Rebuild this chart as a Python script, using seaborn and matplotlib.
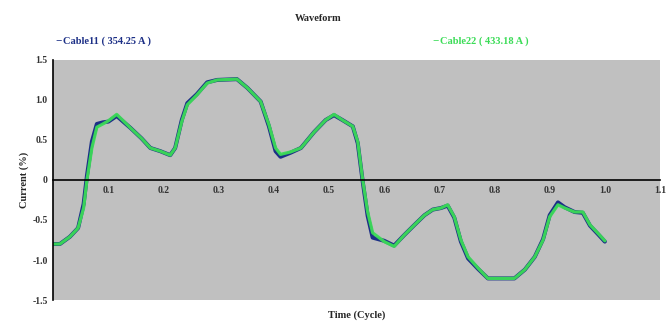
import numpy as np
import pandas as pd
import matplotlib
matplotlib.use("Agg")
import matplotlib.pyplot as plt
from matplotlib.ticker import MultipleLocator, FormatStrFormatter
import seaborn as sns

sns.set_style("white")
plt.rcParams['font.family'] = ['Liberation Serif', 'DejaVu Serif']

title = "Waveform"
series_names = ["Cable11 ( 354.25 A )", "Cable22 ( 433.18 A )"]

time_cycle = [0.0, 0.012, 0.03, 0.045, 0.055, 0.061, 0.07, 0.079, 0.09, 0.1,
              0.115, 0.14, 0.16, 0.176, 0.194, 0.212, 0.221, 0.233, 0.243, 0.26,
              0.279, 0.297, 0.333, 0.352, 0.376, 0.391, 0.403, 0.412, 0.43, 0.449,
              0.473, 0.494, 0.509, 0.524, 0.543, 0.552, 0.561, 0.57, 0.579, 0.6,
              0.618, 0.636, 0.655, 0.673, 0.688, 0.703, 0.715, 0.727, 0.739, 0.752,
              0.77, 0.788, 0.836, 0.855, 0.873, 0.888, 0.9, 0.915, 0.927, 0.945,
              0.96, 0.973, 0.988, 1.0]

cable22 = [-0.80, -0.80, -0.71, -0.60, -0.35, 0.0, 0.40, 0.66, 0.70, 0.74,
           0.82, 0.65, 0.52, 0.40, 0.36, 0.31, 0.40, 0.73, 0.94, 1.06,
           1.21, 1.25, 1.26, 1.15, 0.98, 0.69, 0.40, 0.32, 0.35, 0.40,
           0.60, 0.75, 0.82, 0.75, 0.67, 0.48, 0.0, -0.40, -0.66, -0.77,
           -0.83, -0.69, -0.56, -0.44, -0.37, -0.35, -0.31, -0.46, -0.75, -0.96,
           -1.10, -1.23, -1.23, -1.12, -0.96, -0.75, -0.46, -0.31, -0.35, -0.40,
           -0.40, -0.56, -0.67, -0.76]

cable11 = [-0.80, -0.80, -0.71, -0.60, -0.30, 0.05, 0.48, 0.70, 0.72, 0.73,
           0.80, 0.65, 0.52, 0.40, 0.36, 0.31, 0.40, 0.75, 0.96, 1.07,
           1.22, 1.25, 1.26, 1.15, 0.98, 0.67, 0.36, 0.29, 0.34, 0.40,
           0.60, 0.75, 0.81, 0.75, 0.67, 0.46, -0.02, -0.45, -0.72, -0.76,
           -0.82, -0.69, -0.56, -0.44, -0.37, -0.35, -0.32, -0.47, -0.77, -0.98,
           -1.11, -1.23, -1.23, -1.12, -0.96, -0.74, -0.44, -0.28, -0.34, -0.40,
           -0.41, -0.57, -0.68, -0.77]

df = pd.DataFrame({"t": time_cycle, "c11": cable11, "c22": cable22})

blue = "#1c2f86"
green = "#3bdc57"

fig = plt.figure(figsize=(6.66, 3.24), dpi=100)
ax = fig.add_axes([0.080, 0.074, 0.911, 0.741])
ax.set_facecolor("#c0c0c0")

sns.lineplot(data=df, x="t", y="c11", ax=ax, color=blue, lw=2.9, sort=False,
             solid_joinstyle='round', solid_capstyle='round')
sns.lineplot(data=df, x="t", y="c22", ax=ax, color=green, lw=2.3, alpha=0.95, sort=False,
             solid_joinstyle='round', solid_capstyle='round')

ax.set_xlim(0, 1.1)
ax.set_ylim(-1.5, 1.5)

ax.spines['top'].set_visible(False)
ax.spines['right'].set_visible(False)
ax.spines['bottom'].set_position(('data', 0))
ax.spines['bottom'].set_color('black')
ax.spines['bottom'].set_linewidth(1.2)
ax.spines['left'].set_color('black')
ax.spines['left'].set_linewidth(1.2)

ax.xaxis.set_minor_locator(MultipleLocator(0.02))
ax.yaxis.set_minor_locator(MultipleLocator(0.1))

ax.set_xticks(list(np.round(np.arange(0.1, 1.11, 0.1), 2)))
ax.xaxis.set_major_formatter(FormatStrFormatter('%.1f'))
yt = np.round(np.arange(-1.5, 1.51, 0.5), 2)
ax.set_yticks(yt)
ax.set_yticklabels(["0" if abs(v) < 1e-9 else f"{v:.1f}" for v in yt])

ax.tick_params(axis='x', which='major', direction='inout', length=6, width=1, labelsize=7, pad=1,
               labelcolor='#333333')
ax.tick_params(axis='x', which='minor', direction='inout', length=3, width=0.8)
ax.tick_params(axis='y', which='major', direction='inout', length=6, width=1, labelsize=7, pad=1,
               labelcolor='#333333')
ax.tick_params(axis='y', which='minor', direction='inout', length=3, width=0.8)
for lbl in ax.get_xticklabels() + ax.get_yticklabels():
    lbl.set_fontweight('bold')

ax.set_xlabel("Time (Cycle)", fontsize=7.5, fontweight='bold')
ax.xaxis.set_label_coords(0.5, -0.045)
ax.set_ylabel("Current (%)", fontsize=7.5, fontweight='bold')
ax.yaxis.set_label_coords(-0.04, 0.5)

fig.text(0.478, 0.942, title, fontsize=7.5, fontweight='bold', ha='center', va='center')
fig.text(0.083, 0.874, "\u2212", color=blue, fontsize=8, fontweight='bold', ha='left', va='center')
fig.text(0.095, 0.874, series_names[0], color=blue, fontsize=7.5, fontweight='bold', ha='left', va='center')
fig.text(0.649, 0.874, "\u2212", color=green, fontsize=8, fontweight='bold', ha='left', va='center')
fig.text(0.661, 0.874, series_names[1], color=green, fontsize=7.5, fontweight='bold', ha='left', va='center')

fig.savefig("out.png", dpi=100, facecolor="white")
